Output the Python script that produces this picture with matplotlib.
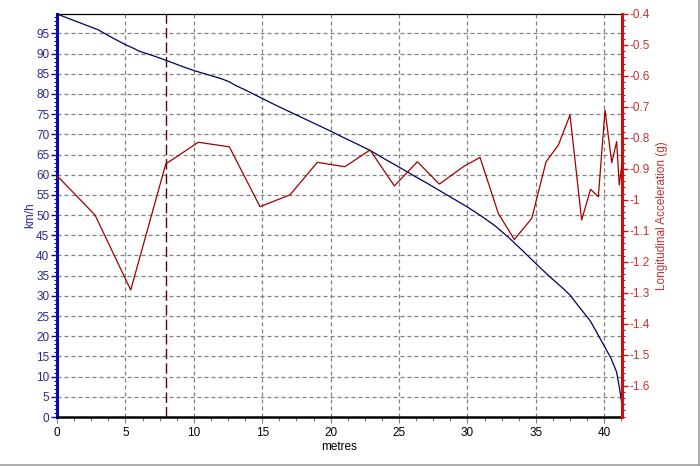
import matplotlib
matplotlib.use("Agg")
import matplotlib.pyplot as plt
from matplotlib.ticker import MultipleLocator
from matplotlib.lines import Line2D

# Speed (km/h) vs distance (metres)
speed_x = [0, 1, 2, 3, 4, 5, 5.6, 6, 7, 8, 9, 10, 11, 12, 12.6, 13, 14, 15, 16, 17, 18,
           19, 20, 21, 22, 23, 24, 25, 26, 27, 28, 29, 30, 31, 32, 33, 34, 35, 36, 37,
           37.5, 38, 39, 40, 40.5, 40.9, 41.1, 41.3]
speed_kmh = [99.8, 98.5, 97.2, 95.9, 94.0, 92.2, 91.3, 90.6, 89.5, 88.3, 87.0, 85.8, 84.8,
             83.8, 83.0, 82.2, 80.6, 78.9, 77.2, 75.6, 74.0, 72.4, 70.8, 69.1, 67.5, 65.8,
             63.8, 61.9, 59.9, 58.0, 56.0, 54.0, 52.0, 49.8, 47.4, 44.5, 41.3, 38.0, 34.8,
             31.8, 30.2, 28.0, 23.7, 17.6, 14.5, 11.2, 7.5, 3.0]

# Longitudinal acceleration (g) vs distance (metres)
acc_x = [0, 2.78, 5.39, 7.95, 10.33, 12.6, 14.84, 17.03, 19.03, 21.05, 22.88, 24.66, 26.34,
         27.95, 29.7, 30.92, 32.26, 33.43, 34.7, 35.75, 36.65, 37.5, 38.35, 39.0, 39.57,
         40.06, 40.55, 40.91, 41.1, 41.3]
acc_g = [-0.922, -1.049, -1.291, -0.884, -0.814, -0.829, -1.022, -0.984, -0.879, -0.893,
         -0.839, -0.955, -0.877, -0.949, -0.893, -0.863, -1.044, -1.128, -1.060, -0.877,
         -0.823, -0.726, -1.065, -0.966, -0.990, -0.710, -0.880, -0.812, -0.952, -0.882]

cursor_x = 8.0

x_ticks = [0, 5, 10, 15, 20, 25, 30, 35, 40]
speed_ticks = [0, 5, 10, 15, 20, 25, 30, 35, 40, 45, 50, 55, 60, 65, 70, 75, 80, 85, 90, 95]
acc_ticks = [-1.6, -1.5, -1.4, -1.3, -1.2, -1.1, -1.0, -0.9, -0.8, -0.7, -0.6, -0.5, -0.4]
acc_labels = ['-1.6', '-1.5', '-1.4', '-1.3', '-1.2', '-1.1', '-1', '-0.9', '-0.8', '-0.7',
              '-0.6', '-0.5', '-0.4']

plt.rcParams['font.family'] = ['Liberation Sans', 'DejaVu Sans']

BLUE_AX = '#0a0aa8'
BLUE_TXT = '#2a2a90'
RED_AX = '#cc1010'
RED_TXT = '#c83030'

fig = plt.figure(figsize=(7.0, 4.66), dpi=100)
ax = fig.add_axes([57/700, 1 - 417/466, (622-57)/700, (417-14)/466])
ax2 = ax.twinx()

ax.set_xlim(0, 41.3)
ax.set_ylim(0, 99.8)
ax2.set_ylim(-1.701, -0.4)

# grid
for t in x_ticks[1:]:
    ax.axvline(t, color='#808080', lw=0.9, ls=(0, (3.2, 2.4)), zorder=0)
for t in speed_ticks[1:]:
    ax.axhline(t, color='#808080', lw=0.9, ls=(0, (3.2, 2.4)), zorder=0)

# cursor
ax.axvline(cursor_x, color='#600000', lw=1.0, ls=(0, (7.5, 3)), zorder=1)

ax.plot(speed_x, speed_kmh, color='#000060', lw=0.9, zorder=3)
ax2.plot(acc_x, acc_g, color='#a00000', lw=0.9, zorder=3)

# ticks
ax.set_xticks(x_ticks)
ax.xaxis.set_minor_locator(MultipleLocator(1.25))
ax.set_yticks(speed_ticks)
ax.yaxis.set_minor_locator(MultipleLocator(1))
ax2.set_yticks(acc_ticks)
ax2.set_yticklabels(acc_labels)
ax2.yaxis.set_minor_locator(MultipleLocator(0.02))

ax.tick_params(axis='x', which='major', direction='out', length=4, width=0.8,
               colors='#808080', labelcolor='black', labelsize=8.5, pad=3)
ax.tick_params(axis='x', which='minor', direction='out', length=3, width=0.8, colors='#808080')
ax.tick_params(axis='y', which='major', direction='out', length=4, width=1.0,
               colors=BLUE_AX, labelcolor=BLUE_TXT, labelsize=8.5, pad=1.5)
ax.tick_params(axis='y', which='minor', direction='out', length=2, width=0.8, colors=BLUE_AX)
ax2.tick_params(axis='y', which='major', direction='out', length=4, width=1.0,
                colors=RED_AX, labelcolor=RED_TXT, labelsize=8.5, pad=1.5)
ax2.tick_params(axis='y', which='minor', direction='out', length=2, width=0.8, colors=RED_AX)

# spines
ax.spines['left'].set_color(BLUE_AX)
ax.spines['left'].set_linewidth(2.2)
ax.spines['bottom'].set_color('black')
ax.spines['bottom'].set_linewidth(1.8)
ax.spines['top'].set_color('black')
ax.spines['top'].set_linewidth(0.9)
ax.spines['right'].set_visible(False)
ax2.spines['right'].set_color(RED_AX)
ax2.spines['right'].set_linewidth(2.2)
ax2.spines['left'].set_visible(False)
ax2.spines['top'].set_visible(False)
ax2.spines['bottom'].set_visible(False)

ax.set_xlabel('metres', fontsize=8.5, color='black', labelpad=2)
ax.set_ylabel('km/h', fontsize=8.5, color=BLUE_TXT, labelpad=0)
ax2.set_ylabel('Longitudinal Acceleration (g)', fontsize=8.5, color=RED_TXT, labelpad=4)

# window border (right and bottom)
fig.add_artist(Line2D([0, 1], [1.5/466, 1.5/466], transform=fig.transFigure,
                      color='#a0a0a0', lw=1.2))
fig.add_artist(Line2D([698.5/700, 698.5/700], [0, 1], transform=fig.transFigure,
                      color='#a0a0a0', lw=1.2))

fig.savefig('out.png', dpi=100)
